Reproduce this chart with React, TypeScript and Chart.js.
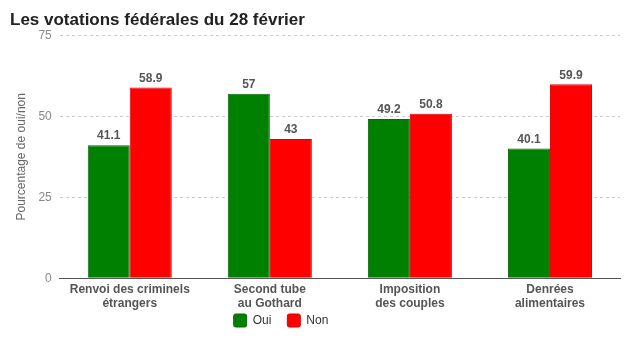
import React, { useEffect, useRef } from "react";
import { Chart, registerables } from "chart.js";

Chart.register(...registerables);

const categories: string[][] = [
  ["Renvoi des criminels", "étrangers"],
  ["Second tube", "au Gothard"],
  ["Imposition", "des couples"],
  ["Denrées", "alimentaires"],
];
const ouiValues = [41.1, 57, 49.2, 40.1];
const nonValues = [58.9, 43, 50.8, 59.9];
const yTicks = [0, 25, 50, 75];

const FONT = "'Liberation Sans', Arial, sans-serif";

const valueLabels = {
  id: "valueLabels",
  afterLayout(chart: any) {
    const lg = chart.legend;
    if (lg) {
      lg.left -= 34;
      lg.right -= 34;
      lg.top -= 17;
      lg.bottom -= 17;
    }
  },
  afterDatasetsDraw(chart: any) {
    const ctx = chart.ctx;
    ctx.save();
    ctx.font = `bold 12px ${FONT}`;
    ctx.fillStyle = "#555";
    ctx.textAlign = "center";
    ctx.textBaseline = "bottom";
    chart.data.datasets.forEach((ds: any, i: number) => {
      const meta = chart.getDatasetMeta(i);
      meta.data.forEach((bar: any, j: number) => {
        ctx.fillText(String(ds.data[j]), bar.x, bar.y - 3);
      });
    });
    ctx.restore();
  },
};

export default function App() {
  const ref = useRef<HTMLCanvasElement | null>(null);
  useEffect(() => {
    document.body.style.margin = "0";
    const chart = new Chart(ref.current!, {
      type: "bar",
      data: {
        labels: categories,
        datasets: [
          { label: "Oui", data: ouiValues, backgroundColor: "#008000", borderColor: "#0a6a0a", borderWidth: 1 },
          { label: "Non", data: nonValues, backgroundColor: "#ff0000", borderColor: "#e00000", borderWidth: 1 },
        ],
      },
      options: {
        animation: false,
        responsive: false,
        layout: { padding: { left: 10, right: 20, bottom: 6, top: 0 } },
        datasets: { bar: { categoryPercentage: 0.6, barPercentage: 1 } },
        plugins: {
          title: {
            display: true,
            text: "Les votations fédérales du 28 février",
            align: "start",
            color: "#222",
            font: { family: FONT, size: 17, weight: "bold" },
            padding: { top: 10, bottom: 5 },
          },
          legend: {
            position: "bottom",
            labels: {
              color: "#333",
              font: { family: FONT, size: 12 },
              boxWidth: 13,
              boxHeight: 13,
              useBorderRadius: true,
              borderRadius: 2,
              padding: 16,
            },
          },
          tooltip: { enabled: false },
        },
        scales: {
          x: {
            grid: { display: false, drawTicks: false },
            border: { display: true, color: "#555", width: 1 },
            ticks: {
              color: "#555",
              font: { family: FONT, size: 12, weight: "bold" },
              padding: 4,
              maxRotation: 0,
            },
          },
          y: {
            min: 0,
            max: 75,
            afterBuildTicks: (axis: any) => {
              axis.ticks = yTicks.map((v) => ({ value: v }));
            },
            grid: {
              color: (c: any) => (c.tick && c.tick.value === 0 ? "rgba(0,0,0,0)" : "#cccccc"),
              drawTicks: false,
            },
            border: { display: false, dash: [3, 3] },
            ticks: {
              color: "#888",
              font: { family: FONT, size: 12 },
              padding: 8,
            },
            title: {
              display: true,
              text: "Pourcentage de oui/non",
              color: "#666",
              font: { family: FONT, size: 12 },
              padding: { top: 4, bottom: 2 },
            },
          },
        },
      } as any,
      plugins: [valueLabels],
    });
    return () => chart.destroy();
  }, []);
  return (
    <div style={{ width: 640, height: 360 }}>
      <canvas ref={ref} width={640} height={360} />
    </div>
  );
}
